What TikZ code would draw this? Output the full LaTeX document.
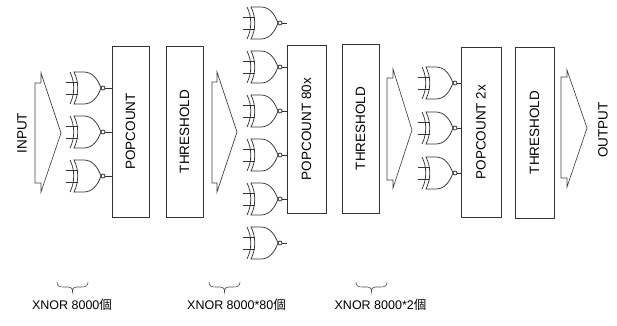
\documentclass[tikz,border=0pt]{standalone}
\usepackage{fontspec}
\setmainfont{Liberation Sans}
\newfontfamily\cjk{Noto Sans CJK TC}
\begin{document}
\begin{tikzpicture}[x=1pt,y=-1pt,
  line/.style={draw=black!80,line width=0.75pt},
  box/.style={draw=black!80,line width=0.8pt,inner sep=0pt,font=\fontsize{13.5}{14}\selectfont},
  bus/.style={draw=black!75,line width=0.65pt,line join=miter},
  lbl/.style={inner sep=0pt,font=\fontsize{13.5}{14}\selectfont},
  captext/.style={inner sep=0pt,font=\fontsize{12.5}{14}\selectfont},
  brace/.style={draw=black!70,line width=0.6pt},
  xnor/.pic={
    \draw[line] (-35,-6) -- (-23.5,-6) (-35,6) -- (-23.5,6);
    \draw[line] (-31,-16) .. controls (-26,-6) and (-26,6) .. (-31,16);
    \draw[line] (-27,-16) -- (-17,-16) .. controls (-8,-16) and (-3,-8) .. (0,0)
       .. controls (-3,8) and (-8,16) .. (-17,16) -- (-27,16)
       .. controls (-22,6) and (-22,-6) .. cycle;
    \draw[line] (2,0) circle[radius=2pt];
    \coordinate (-out) at (4,0);
  }]
\useasboundingbox (0,0) rectangle (617,325);

% boxes
\node[box,minimum width=37pt,minimum height=171pt] (pop1) at (130.5,131.5) {\rotatebox{90}{POPCOUNT}};
\node[box,minimum width=37pt,minimum height=171pt] (thr1) at (184.5,131.5) {\rotatebox{90}{THRESHOLD}};
\node[box,minimum width=39pt,minimum height=168pt] (pop2) at (306.5,129) {\rotatebox{90}{POPCOUNT 80x}};
\node[box,minimum width=37pt,minimum height=169pt] (thr2) at (360.5,128.5) {\rotatebox{90}{THRESHOLD}};
\node[box,minimum width=40pt,minimum height=170pt] (pop3) at (481,132) {\rotatebox{90}{POPCOUNT 2x}};
\node[box,minimum width=39pt,minimum height=171pt] (thr3) at (534.5,132.5) {\rotatebox{90}{THRESHOLD}};

% bus arrows
\draw[bus] (41,73) -- (41,83) -- (35,83) -- (35,183) -- (41,183) -- (41,192) -- (61,133) -- cycle;
\draw[bus] (217,72) -- (217,82) -- (212,82) -- (212,183) -- (217,183) -- (217,192) -- (237,132) -- cycle;
\draw[bus] (393,69) -- (393,78) -- (387,78) -- (387,180) -- (393,180) -- (393,188) -- (412,130) -- cycle;
\draw[bus] (567,70) -- (567,77) -- (561,77) -- (561,178) -- (567,178) -- (567,187) -- (587,128) -- cycle;

\node[lbl] (in) at (22,133) {\rotatebox{90}{INPUT}};
\node[lbl] (out) at (603,130) {\rotatebox{90}{OUTPUT}};

% gates group 1
\pic (ga1) at (101,88) {xnor};
\pic (ga2) at (101,132) {xnor};
\pic (ga3) at (101,176) {xnor};
\foreach \g in {ga1,ga2,ga3} \draw[line] (\g-out) -- (\g-out -| pop1.west);

% gates group 2
\pic (gb1) at (278,23) {xnor};
\pic (gb2) at (278,67) {xnor};
\pic (gb3) at (278,111) {xnor};
\pic (gb4) at (278,155) {xnor};
\pic (gb5) at (278,199) {xnor};
\pic (gb6) at (278,243) {xnor};
\foreach \g in {gb1,gb2,gb3,gb4,gb5,gb6} \draw[line] (\g-out) -- (\g-out -| pop2.west);

% gates group 3
\pic (gc1) at (453,83) {xnor};
\pic (gc2) at (453,128) {xnor};
\pic (gc3) at (453,173) {xnor};
\foreach \g in {gc1,gc2,gc3} \draw[line] (\g-out) -- (\g-out -| pop3.west);

% braces
\foreach \c in {72.5,224.5,371.5}{
  \draw[brace] (\c-15.5,282) .. controls (\c-15.5,286) and (\c-13,287) .. (\c-9,287) -- (\c-4,287)
     .. controls (\c-1.5,287) and (\c,288) .. (\c,292)
     .. controls (\c,288) and (\c+1.5,287) .. (\c+4,287) -- (\c+9,287)
     .. controls (\c+13,287) and (\c+15.5,286) .. (\c+15.5,282);
}
\node[captext] (c1) at (72,305) {XNOR 8000{\cjk 個}};
\node[captext] (c2) at (236.5,305) {XNOR 8000*80{\cjk 個}};
\node[captext] (c3) at (380.5,305) {XNOR 8000*2{\cjk 個}};
\end{tikzpicture}
\end{document}
